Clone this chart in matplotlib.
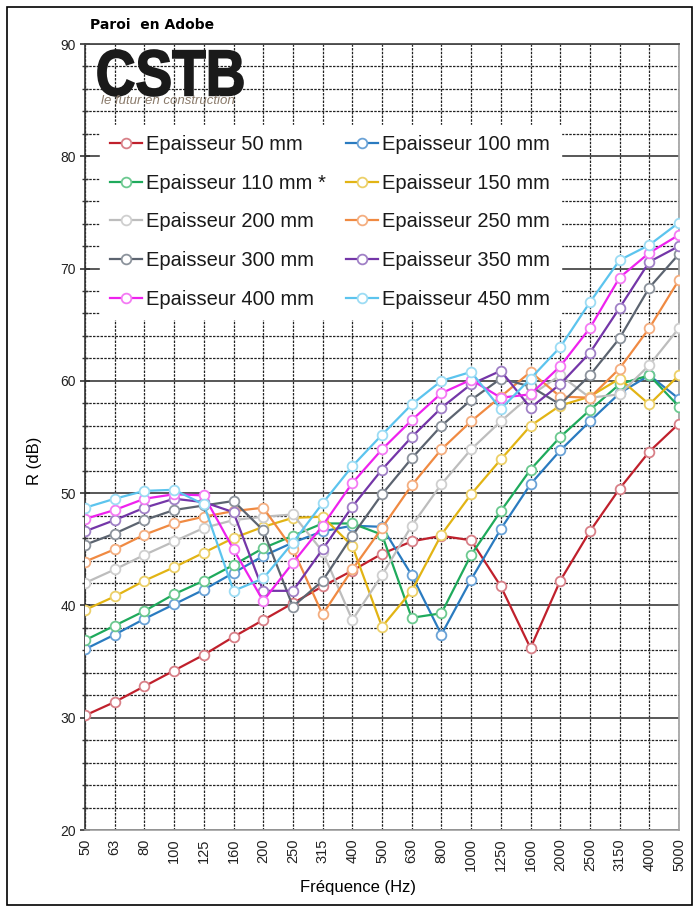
import matplotlib
matplotlib.use('Agg')
import matplotlib.pyplot as plt
from matplotlib.patches import Rectangle, PathPatch
from matplotlib.textpath import TextPath
from matplotlib.font_manager import FontProperties
from matplotlib.transforms import Affine2D
from matplotlib.ticker import MultipleLocator

# frequency bands (third octave)
freqs = ['50', '63', '80', '100', '125', '160', '200', '250', '315', '400', '500',
         '630', '800', '1000', '1250', '1600', '2000', '2500', '3150', '4000', '5000']

# R (dB) per wall thickness
r_50 = [30.2, 31.4, 32.8, 34.2, 35.6, 37.2, 38.7, 40.2, 41.7, 43.1, 44.6,
        45.7, 46.2, 45.8, 41.7, 36.2, 42.2, 46.6, 50.4, 53.7, 56.2]
r_100 = [36.1, 37.4, 38.8, 40.1, 41.4, 42.9, 44.4, 45.6, 46.6, 47.1, 47.0,
         42.7, 37.4, 42.3, 46.8, 50.8, 53.8, 56.4, 58.9, 60.5, 58.4]
r_110 = [36.9, 38.2, 39.5, 41.0, 42.2, 43.6, 45.1, 46.2, 47.3, 47.3, 46.3,
         38.9, 39.3, 44.5, 48.4, 52.1, 55.0, 57.4, 59.7, 60.5, 57.7]
r_150 = [39.6, 40.8, 42.2, 43.4, 44.7, 46.0, 47.0, 47.8, 47.9, 45.3, 38.1,
         41.3, 46.3, 49.9, 53.0, 56.0, 57.8, 58.6, 60.2, 57.9, 60.5]
r_200 = [42.0, 43.2, 44.5, 45.7, 46.9, 47.6, 47.9, 48.1, 44.8, 38.7, 42.7,
         47.1, 50.8, 53.9, 56.4, 58.7, 60.5, 58.5, 58.8, 61.4, 64.7]
r_250 = [43.9, 45.0, 46.3, 47.3, 47.9, 48.4, 48.7, 45.0, 39.2, 43.2, 46.9,
         50.7, 53.9, 56.4, 58.6, 60.8, 58.6, 58.5, 61.1, 64.7, 69.0]
r_300 = [45.4, 46.4, 47.6, 48.5, 48.9, 49.3, 46.7, 39.9, 42.2, 46.2, 49.9,
         53.1, 56.0, 58.3, 60.2, 59.5, 57.9, 60.5, 63.8, 68.3, 71.3]
r_350 = [46.6, 47.6, 48.7, 49.5, 49.2, 48.3, 41.3, 41.3, 45.0, 48.8, 52.1,
         55.0, 57.6, 59.7, 60.9, 57.6, 59.7, 62.5, 66.5, 70.6, 72.0]
r_400 = [47.7, 48.5, 49.5, 49.9, 49.8, 45.0, 40.4, 43.8, 47.1, 50.9, 53.9,
         56.5, 58.9, 60.1, 58.5, 58.8, 61.3, 64.7, 69.2, 71.4, 73.0]
r_450 = [48.7, 49.5, 50.2, 50.3, 49.0, 41.3, 42.4, 45.6, 49.1, 52.4, 55.2,
         57.9, 60.0, 60.8, 57.5, 60.2, 63.0, 67.0, 70.75, 72.1, 74.1]

series = [r_50, r_100, r_110, r_150, r_200, r_250, r_300, r_350, r_400, r_450]
labels = ['Epaisseur 50 mm', 'Epaisseur 100 mm', 'Epaisseur 110 mm *',
          'Epaisseur 150 mm', 'Epaisseur 200 mm', 'Epaisseur 250 mm',
          'Epaisseur 300 mm', 'Epaisseur 350 mm', 'Epaisseur 400 mm',
          'Epaisseur 450 mm']
# line colour, marker edge colour
colors = ['#c0202c', '#2a7bc0', '#1faa5c', '#e2b414', '#bdbdbd',
          '#f08a42', '#5c6470', '#7436a8', '#ee22ee', '#5cc4ee']
edge_colors = ['#d88088', '#6aa2d6', '#6cc990', '#ecd068', '#cfcfcf',
               '#f4ae80', '#8c939c', '#a080c6', '#f47af4', '#9cdcf4']

arial = ['Liberation Sans', 'DejaVu Sans']


def main():
    fig = plt.figure(figsize=(6.99, 9.10), dpi=100)
    ax = fig.add_axes([85/699, 1 - 830/910, 594/699, 786/910])

    handles = []
    for vals, lab, c, ec in zip(series, labels, colors, edge_colors):
        h, = ax.plot(freqs, vals, color=c, lw=1.6, marker='o', ms=7,
                     mfc='white', mec=ec, mew=1.3, label=lab, zorder=3)
        handles.append(h)

    ax.set_xlim(0, len(freqs) - 1)
    ax.set_ylim(20, 90)
    ax.yaxis.set_major_locator(MultipleLocator(10))
    ax.yaxis.set_minor_locator(MultipleLocator(2))

    # grid: solid every 10 dB, dashed every 2 dB and on each band
    ax.grid(which='major', axis='y', color='#4a4a4a', lw=1.3, ls='-', zorder=0)
    ax.grid(which='minor', axis='y', color='#222222', lw=0.9, ls=(0, (2, 1)), zorder=0)
    ax.grid(which='major', axis='x', color='#222222', lw=0.9, ls=(0, (2, 1)), zorder=0)
    ax.set_axisbelow(True)

    for side in ['right', 'bottom']:
        ax.spines[side].set_color('#a0a0a0')
        ax.spines[side].set_linewidth(1.2)
    ax.spines['top'].set_color('#4a4a4a')
    ax.spines['top'].set_linewidth(1.3)
    ax.spines['left'].set_color('#333333')
    ax.spines['left'].set_linewidth(1.2)

    ax.tick_params(axis='y', which='major', direction='inout', length=7,
                   width=1.2, color='#333333', labelsize=10, pad=3)
    ax.tick_params(axis='y', which='minor', direction='inout', length=4,
                   width=1, color='#333333')
    ax.tick_params(axis='x', length=0, labelsize=10.5, pad=6, labelrotation=90)
    for t in ax.get_xticklabels() + ax.get_yticklabels():
        t.set_family(arial)
        t.set_color('#222222')

    ax.set_xlabel('Fréquence (Hz)', family=arial, fontsize=12)
    ax.xaxis.set_label_coords(0.46, -0.064)
    ax.set_ylabel('R (dB)', family=arial, fontsize=12)
    ax.yaxis.set_label_coords(-0.072, 0.47)

    # legend filled row by row like the original
    order = [0, 2, 4, 6, 8, 1, 3, 5, 7, 9]
    leg = ax.legend([handles[i] for i in order], [labels[i] for i in order],
                    ncol=2, loc='upper left', bbox_to_anchor=(0.025, 0.897),
                    prop={'family': arial, 'size': 14.5}, frameon=True,
                    fancybox=False, handlelength=1.6, handletextpad=0.2,
                    columnspacing=1.0, labelspacing=0.98, borderpad=0.5,
                    borderaxespad=0)
    leg.get_frame().set_facecolor('white')
    leg.get_frame().set_edgecolor('white')
    leg.get_frame().set_alpha(1)
    for t in leg.get_texts():
        t.set_color('#1a1a1a')

    # title and logo
    fig.text(90/699, 1 - 25/910, 'Paroi  en Adobe', fontsize=10, fontweight='bold',
             va='center', ha='left')
    logo = TextPath((0, 0), 'CSTB', size=1,
                    prop=FontProperties(family='Liberation Sans', weight='bold'))
    lb = logo.get_extents()
    sx = 145 / lb.width
    sy = 46 / lb.height
    tr = Affine2D().translate(-lb.x0, -lb.y0).scale(sx, sy).translate(98, 910 - 96)
    fig.add_artist(PathPatch(logo, transform=tr, facecolor='#1a1a1a',
                             edgecolor='#1a1a1a', lw=1.2))
    fig.text(101/699, 1 - 101/910, 'le futur en construction', fontsize=9.5,
             style='italic', family=arial, va='center', ha='left',
             color='#8a7a6a')

    # outer frame
    fig.add_artist(Rectangle((7/699, 5/910), 685/699, 898/910, transform=fig.transFigure,
                             fill=False, edgecolor='black', lw=1.2))

    fig.savefig('out.png', dpi=100)


if __name__ == "__main__":
    main()
